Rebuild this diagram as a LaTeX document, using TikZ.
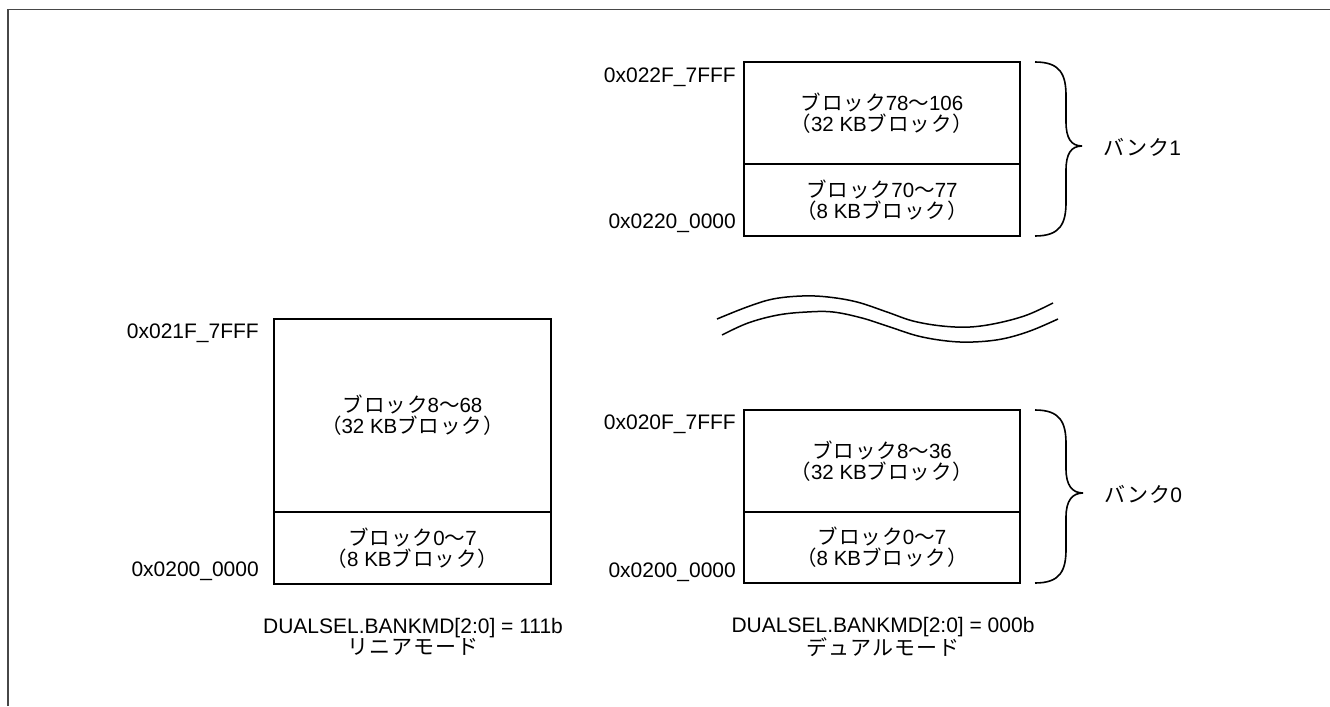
\documentclass[tikz,border=0pt]{standalone}
\usepackage{fontspec}
\setmainfont{Liberation Sans}
\newfontfamily\jpfont[LetterSpace=5]{Noto Sans CJK JP}
\newcommand{\J}[1]{{\jpfont #1}}
\begin{document}
\begin{tikzpicture}[x=1bp,y=-1bp,
  box/.style={draw=black, line width=1.6bp, minimum width=276bp, inner sep=0pt,
    align=center, font=\fontsize{20.5bp}{21bp}\selectfont},
  addr/.style={anchor=east, inner sep=0pt, font=\fontsize{21bp}{22bp}\selectfont},
  lbl/.style={anchor=west, inner sep=0pt, font=\fontsize{21bp}{22bp}\selectfont},
  captxt/.style={align=center, inner sep=0pt, font=\fontsize{21bp}{21.5bp}\selectfont},
  brace/.style={draw=black, line width=1.6bp},
  wave/.style={draw=black, line width=1.5bp}]
\useasboundingbox (0,0) rectangle (1330,706);
% frame
\draw[line width=1.6bp, draw=black!72] (8,706) -- (8,9.5) -- (1330,9.5);

% top right (bank 1)
\node[box, minimum height=102bp] (b1u) at (882,113) {\J{ブロック}78\J{～}106\\\J{（}32 KB\J{ブロック）}};
\node[box, minimum height=72bp] (b1l) at (882,200) {\J{ブロック}70\J{～}77\\\J{（}8 KB\J{ブロック）}};

% left (linear)
\node[box, minimum width=277bp, minimum height=193bp] (lu) at (412.5,415.5) {\J{ブロック}8\J{～}68\\\J{（}32 KB\J{ブロック）}};
\node[box, minimum width=277bp, minimum height=72bp] (ll) at (412.5,548) {\J{ブロック}0\J{～}7\\\J{（}8 KB\J{ブロック）}};

% bottom right (bank 0)
\node[box, minimum height=102bp] (b0u) at (882,461) {\J{ブロック}8\J{～}36\\\J{（}32 KB\J{ブロック）}};
\node[box, minimum height=71bp] (b0l) at (882,547.5) {\J{ブロック}0\J{～}7\\\J{（}8 KB\J{ブロック）}};

% addresses
\node[addr] (a1) at (736,77) {0x022F\_7FFF};
\node[addr] (a2) at (736,223) {0x0220\_0000};
\node[addr] (a3) at (259,333) {0x021F\_7FFF};
\node[addr] (a4) at (259,571) {0x0200\_0000};
\node[addr] (a5) at (736,424) {0x020F\_7FFF};
\node[addr] (a6) at (736,572) {0x0200\_0000};

% braces
\draw[brace] (1035,62) .. controls (1060,62) and (1066,74) .. (1066,96)
  -- (1066,122) .. controls (1066,138) and (1071,146) .. (1082,146)
  .. controls (1071,146) and (1066,154) .. (1066,170)
  -- (1066,202) .. controls (1066,224) and (1060,236) .. (1035,236);
\draw[brace] (1035,410) .. controls (1060,410) and (1066,422) .. (1066,444)
  -- (1066,469) .. controls (1066,485) and (1072,493) .. (1083,493)
  .. controls (1072,493) and (1066,501) .. (1066,517)
  -- (1066,549) .. controls (1066,571) and (1060,583) .. (1035,583);
\node[lbl] (bk1) at (1103,147) {\J{バンク}1};
\node[lbl] (bk0) at (1104,494) {\J{バンク}0};

% wave (omission mark)
\draw[wave] plot[smooth, tension=0.6] coordinates {(717,319) (747,307) (773,299) (802,296) (828,297) (857,302) (887,312) (913,321) (942,326) (970,327) (998,323) (1027,315) (1053,303)};
\draw[wave] plot[smooth, tension=0.6] coordinates {(722,335) (748,323) (778,315) (807,312) (833,312) (862,318) (890,327) (918,336) (947,341) (973,342) (1002,339) (1030,331) (1058,319)};

% captions
\node[captxt] (c1) at (413,637) {DUALSEL.BANKMD[2:0] = 111b\\\J{リニアモード}};
\node[captxt] (c2) at (883,637) {DUALSEL.BANKMD[2:0] = 000b\\\J{デュアルモード}};
\end{tikzpicture}
\end{document}
